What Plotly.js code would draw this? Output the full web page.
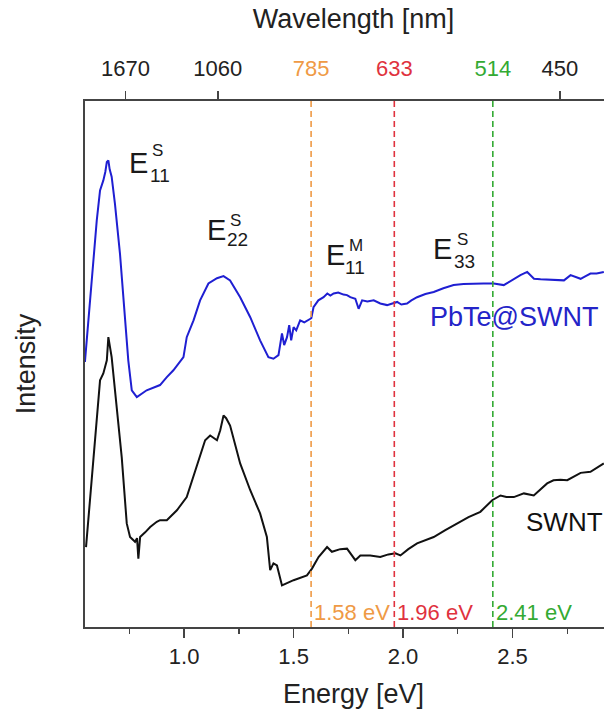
<!DOCTYPE html>
<html>
<head>
<meta charset="utf-8">
<script src="https://cdn.plot.ly/plotly-3.0.1.min.js"></script>
<style>
html,body{margin:0;padding:0;overflow:hidden;background:#fff;}
#chart{width:640px;height:713px;}
</style>
</head>
<body>
<div id="chart"></div>
<script>
// PbTe@SWNT spectrum (energy in eV, intensity in a.u.)
const pbteEnergy = [0.547,0.601,0.616,0.631,0.640,0.647,0.654,0.660,0.669,0.684,0.707,0.730,0.745,0.761,0.784,0.829,0.890,0.921,0.951,0.997,1.012,1.043,1.073,1.111,1.150,1.180,1.210,1.256,1.302,1.347,1.385,1.408,1.431,1.447,1.457,1.470,1.480,1.489,1.500,1.512,1.530,1.549,1.568,1.581,1.591,1.613,1.637,1.654,1.668,1.683,1.704,1.728,1.744,1.759,1.782,1.797,1.813,1.837,1.866,1.896,1.927,1.947,1.973,1.992,2.018,2.038,2.064,2.102,2.140,2.184,2.231,2.276,2.323,2.367,2.414,2.460,2.481,2.506,2.536,2.567,2.582,2.598,2.628,2.674,2.706,2.735,2.765,2.788,2.811,2.834,2.856,2.884,2.917];
const pbteIntensity = [50.4,77.3,83.0,84.9,86.5,88.4,88.7,87.0,85.6,80.5,71.0,58.3,50.7,45.0,43.7,45.0,46.0,47.5,48.8,51.3,55.1,58.3,62.1,65.3,66.3,66.7,65.9,62.7,58.9,54.5,51.3,51.0,51.7,55.8,53.6,55.1,57.4,54.5,57.0,56.4,58.3,57.9,58.3,58.7,60.8,62.1,62.7,63.4,63.0,63.4,63.6,63.2,63.1,62.7,62.4,60.5,62.1,61.9,62.1,61.5,61.2,61.5,61.8,61.3,61.5,62.1,62.7,63.3,63.7,64.4,65.0,65.2,65.3,65.3,65.3,65.0,65.5,66.2,66.9,67.5,66.9,66.2,66.1,66.0,65.9,65.9,66.9,66.5,66.2,66.7,67.2,67.2,67.5];

// pristine SWNT spectrum
const swntEnergy = [0.552,0.585,0.616,0.631,0.647,0.654,0.669,0.692,0.715,0.738,0.753,0.776,0.785,0.791,0.799,0.822,0.845,0.875,0.890,0.921,0.967,1.012,1.058,1.096,1.119,1.150,1.165,1.180,1.192,1.210,1.256,1.302,1.347,1.378,1.393,1.408,1.424,1.447,1.500,1.561,1.584,1.614,1.653,1.675,1.713,1.744,1.782,1.805,1.850,1.896,1.933,1.965,1.988,2.024,2.064,2.102,2.140,2.193,2.247,2.299,2.353,2.407,2.445,2.472,2.506,2.552,2.597,2.628,2.658,2.687,2.719,2.750,2.779,2.811,2.856,2.888,2.917];
const swntIntensity = [15.2,31.1,46.9,48.2,50.7,55.1,51.3,41.8,32.3,19.7,17.1,16.2,16.9,13.0,17.1,18.0,19.0,20.0,20.3,20.3,22.2,24.7,30.4,35.5,36.4,35.5,37.4,40.2,39.7,38.3,31.1,26.0,21.6,17.1,10.8,12.1,11.7,7.9,8.9,9.8,11.1,13.3,15.2,14.3,14.8,14.9,12.7,13.6,13.6,13.3,13.8,14.0,13.6,14.8,15.9,16.5,17.1,18.4,19.7,20.9,21.9,24.1,25.0,24.7,24.7,25.4,25.0,26.2,27.3,27.9,28.0,27.9,28.6,29.3,29.5,30.4,31.1];

// excitation lasers
const laserEnergy = [1.58, 1.96, 2.41];
const laserLabels = ['1.58 eV', '1.96 eV', '2.41 eV'];
const laserColors = ['#EF9A45', '#E0323E', '#33AA33'];

// top axis (wavelength) ticks: positions in eV
const wlTickEnergy = [0.732, 1.154, 1.58, 1.96, 2.41, 2.716];
const wlTickText = ['1670', '1060', '785', '633', '514', '450'];
const wlTickColors = ['#222222', '#222222', '#EF9A45', '#E0323E', '#33AA33', '#222222'];
const wlMarkedEnergy = [0.732, 1.154, 2.716];

const energyTicks = [1.0, 1.5, 2.0, 2.5];
const energyTickText = ['1.0', '1.5', '2.0', '2.5'];

const FONT = '"Liberation Sans", Arial, Helvetica, sans-serif';
const RANGE = [0.5473, 3.0];

const traces = [
  {x: pbteEnergy, y: pbteIntensity, type: 'scatter', mode: 'lines', name: 'PbTe@SWNT',
   line: {color: '#1F1FD2', width: 2}, xaxis: 'x', yaxis: 'y', hoverinfo: 'skip'},
  {x: swntEnergy, y: swntIntensity, type: 'scatter', mode: 'lines', name: 'SWNT',
   line: {color: '#111111', width: 2}, xaxis: 'x', yaxis: 'y', hoverinfo: 'skip'}
];

const shapes = laserEnergy.map((e, i) => ({
  type: 'line', xref: 'x', yref: 'paper', x0: e, x1: e, y0: 0, y1: 1,
  line: {color: laserColors[i], width: 1.6, dash: '6px,4px'}
}));

const annotations = [];
laserEnergy.forEach((e, i) => {
  annotations.push({x: e, y: 0.0285, xref: 'x', yref: 'paper', text: laserLabels[i],
    showarrow: false, xanchor: 'left', yanchor: 'middle', xshift: 1,
    font: {family: FONT, size: 22, color: laserColors[i]}});
});

function eLabel(ex, ey, sup, sub, supx, supy, subx, suby) {
  annotations.push({x: ex, y: ey, xref: 'x', yref: 'y', text: 'E', showarrow: false,
    xanchor: 'center', yanchor: 'middle', font: {family: FONT, size: 29, color: '#1a1a1a'}});
  annotations.push({x: supx, y: supy, xref: 'x', yref: 'y', text: sup, showarrow: false,
    xanchor: 'left', yanchor: 'middle', font: {family: FONT, size: 17, color: '#1a1a1a'}});
  annotations.push({x: subx, y: suby, xref: 'x', yref: 'y', text: sub, showarrow: false,
    xanchor: 'left', yanchor: 'middle', font: {family: FONT, size: 19, color: '#1a1a1a'}});
}
eLabel(0.790, 88.2, 'S', '11', 0.843, 90.6, 0.835, 85.9);
eLabel(1.150, 75.4, 'S', '22', 1.199, 77.3, 1.187, 73.7);
eLabel(1.690, 70.7, 'M', '11', 1.743, 72.6, 1.727, 68.3);
eLabel(2.182, 71.8, 'S', '33', 2.237, 73.7, 2.225, 69.4);

annotations.push({x: 2.115, y: 58.9, xref: 'x', yref: 'y', text: 'PbTe@SWNT', showarrow: false,
  xanchor: 'left', yanchor: 'middle', font: {family: FONT, size: 27, color: '#2424C8'}});
annotations.push({x: 2.552, y: 20.0, xref: 'x', yref: 'y', text: 'SWNT', showarrow: false,
  xanchor: 'left', yanchor: 'middle', font: {family: FONT, size: 26, color: '#111111'}});

const layout = {
  width: 640, height: 713,
  margin: {l: 85, r: 18, t: 101, b: 86, pad: 0},
  paper_bgcolor: '#ffffff', plot_bgcolor: '#ffffff',
  showlegend: false,
  font: {family: FONT, color: '#222222'},
  xaxis: {
    range: RANGE, tickmode: 'array', tickvals: energyTicks, ticktext: energyTickText,
    ticks: 'outside', ticklen: 9, tickwidth: 1.6, tickcolor: '#444',
    minor: {dtick: 0.25, tick0: 0, ticks: 'outside', ticklen: 5, tickwidth: 1.4, tickcolor: '#444', showgrid: false},
    showline: true, linecolor: '#444', linewidth: 2, showgrid: false, zeroline: false,
    tickfont: {family: FONT, size: 22, color: '#222'},
    title: {text: 'Energy [eV]', font: {family: FONT, size: 27, color: '#222'}, standoff: 16}
  },
  xaxis2: {
    overlaying: 'x', side: 'top', anchor: 'y', range: RANGE, tickmode: 'array',
    tickvals: wlTickEnergy,
    ticktext: wlTickText.map((t, i) => '<span style="color:' + wlTickColors[i] + '">' + t + '</span>'),
    ticks: 'outside', ticklen: 14, tickcolor: 'rgba(0,0,0,0)',
    showline: true, linecolor: '#444', linewidth: 2, showgrid: false, zeroline: false,
    tickfont: {family: FONT, size: 22, color: '#222'},
    title: {text: 'Wavelength [nm]', font: {family: FONT, size: 27, color: '#222'}, standoff: 20}
  },
  xaxis3: {
    overlaying: 'x', side: 'top', anchor: 'y', range: RANGE, tickmode: 'array',
    tickvals: wlMarkedEnergy, showticklabels: false,
    ticks: 'outside', ticklen: 9, tickwidth: 1.6, tickcolor: '#444',
    showline: false, showgrid: false, zeroline: false
  },
  yaxis: {
    range: [0, 100], showticklabels: false, ticks: '', showline: true, linecolor: '#444', linewidth: 2,
    showgrid: false, zeroline: false,
    title: {text: 'Intensity', font: {family: FONT, size: 27, color: '#222'}, standoff: 40}
  },
  shapes: shapes,
  annotations: annotations
};

// dummy traces to activate the top axes
traces.push({x: [RANGE[0]], y: [null], xaxis: 'x2', yaxis: 'y', type: 'scatter', mode: 'lines', hoverinfo: 'skip', showlegend: false});
traces.push({x: [RANGE[0]], y: [null], xaxis: 'x3', yaxis: 'y', type: 'scatter', mode: 'lines', hoverinfo: 'skip', showlegend: false});

Plotly.newPlot('chart', traces, layout, {staticPlot: true, displayModeBar: false});
</script>
</body>
</html>
